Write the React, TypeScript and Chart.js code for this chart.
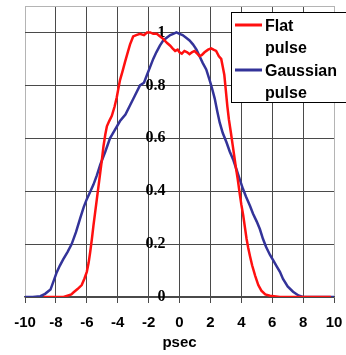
import React, { useEffect, useRef } from "react";
import { Chart, registerables } from "chart.js";

Chart.register(...registerables);

const flatLabel = ["Flat", "pulse"];
const gaussLabel = ["Gaussian", "pulse"];

const flatX = [-8.8, -8, -7.5, -7.0, -6.87, -6.6, -6.33, -6.15, -6.0, -5.88, -5.78, -5.67, -5.57, -5.46, -5.35, -5.24, -5.13, -5.02, -4.92, -4.8, -4.7, -4.55, -4.38, -4.2, -4.06, -3.95, -3.85, -3.68, -3.52, -3.35, -3.2, -3.0, -2.8, -2.56, -2.3, -2.1, -1.9, -1.7, -1.47, -1.25, -1.04, -0.8, -0.6, -0.45, -0.28, -0.12, 0, 0.15, 0.32, 0.5, 0.65, 0.8, 0.97, 1.15, 1.3, 1.45, 1.62, 1.85, 2.05, 2.2, 2.37, 2.55, 2.7, 2.8, 2.9, 3.0, 3.1, 3.2, 3.33, 3.44, 3.55, 3.66, 3.77, 3.9, 4.0, 4.12, 4.23, 4.34, 4.45, 4.56, 4.7, 4.9, 5.1, 5.3, 5.55, 5.85, 6.5, 7.5, 8.5, 9.8];
const flatY = [0, 0, 0, 0.01, 0.017, 0.03, 0.045, 0.07, 0.095, 0.13, 0.17, 0.22, 0.27, 0.32, 0.37, 0.42, 0.47, 0.52, 0.57, 0.615, 0.645, 0.665, 0.685, 0.72, 0.755, 0.79, 0.82, 0.855, 0.89, 0.925, 0.955, 0.985, 0.99, 0.995, 0.99, 1.0, 1.0, 0.995, 0.995, 0.985, 0.975, 0.96, 0.95, 0.94, 0.93, 0.935, 0.925, 0.92, 0.93, 0.925, 0.918, 0.925, 0.93, 0.92, 0.91, 0.915, 0.925, 0.935, 0.94, 0.935, 0.93, 0.91, 0.9, 0.87, 0.84, 0.78, 0.72, 0.67, 0.62, 0.575, 0.53, 0.485, 0.445, 0.39, 0.35, 0.31, 0.265, 0.22, 0.185, 0.155, 0.12, 0.08, 0.045, 0.024, 0.01, 0.005, 0, 0, 0, 0];

const gaussX = [-10, -9.5, -9.0, -8.7, -8.35, -8.15, -7.95, -7.75, -7.52, -7.25, -6.98, -6.7, -6.44, -6.2, -6.0, -5.8, -5.57, -5.35, -5.13, -4.8, -4.5, -4.2, -3.85, -3.5, -3.2, -2.9, -2.56, -2.3, -2.1, -1.9, -1.7, -1.5, -1.27, -1.05, -0.83, -0.6, -0.4, -0.2, 0, 0.2, 0.43, 0.65, 0.87, 1.1, 1.3, 1.5, 1.73, 1.95, 2.1, 2.28, 2.45, 2.6, 2.8, 3.04, 3.25, 3.47, 3.7, 3.9, 4.1, 4.3, 4.56, 4.76, 5.0, 5.2, 5.4, 5.6, 5.85, 6.05, 6.3, 6.5, 6.7, 7.0, 7.35, 7.7, 8.0, 9.0, 10];
const gaussY = [0, 0, 0.003, 0.012, 0.028, 0.06, 0.093, 0.118, 0.143, 0.17, 0.2, 0.245, 0.295, 0.34, 0.37, 0.395, 0.425, 0.46, 0.5, 0.55, 0.6, 0.63, 0.665, 0.69, 0.725, 0.76, 0.8, 0.81, 0.84, 0.87, 0.9, 0.925, 0.95, 0.97, 0.98, 0.99, 0.995, 1.0, 0.995, 0.99, 0.98, 0.97, 0.955, 0.935, 0.91, 0.885, 0.86, 0.82, 0.79, 0.75, 0.7, 0.66, 0.62, 0.585, 0.55, 0.52, 0.48, 0.445, 0.41, 0.38, 0.345, 0.315, 0.285, 0.257, 0.22, 0.19, 0.16, 0.14, 0.115, 0.095, 0.068, 0.04, 0.02, 0.006, 0, 0, 0];

const yTicks = [0, 0.2, 0.4, 0.6, 0.8, 1.0, 1.1];
const xTitle = "psec";

const SANS = "'Liberation Sans', Arial, sans-serif";
const SERIF = "'Liberation Serif', 'Times New Roman', serif";
const DARK = "#4a4a4a";
const LIGHT = "#b4b4b4";

const legendPlugin = {
  id: "boxLegend",
  afterDraw(chart: any) {
    const ctx = chart.ctx;
    const left = 231, top = 12, width = 125, height = 90;
    ctx.save();
    ctx.fillStyle = "#ffffff";
    ctx.fillRect(left, top, width, height);
    ctx.strokeStyle = "#000000";
    ctx.lineWidth = 1;
    ctx.strokeRect(left + 0.5, top + 0.5, width, height);
    ctx.font = `bold 16px ${SANS}`;
    ctx.textBaseline = "middle";
    ctx.textAlign = "left";
    chart.data.datasets.forEach((ds: any, i: number) => {
      const cy = top + 13 + i * 45;
      ctx.strokeStyle = ds.borderColor;
      ctx.lineWidth = 3;
      ctx.beginPath();
      ctx.moveTo(left + 4, cy);
      ctx.lineTo(left + 31, cy);
      ctx.stroke();
      ctx.fillStyle = "#000000";
      const lines: string[] = ds.label;
      lines.forEach((t, j) => ctx.fillText(t, left + 34, cy + 2 + j * 22));
    });
    ctx.restore();
  },
};

export default function App() {
  const ref = useRef<HTMLCanvasElement | null>(null);
  useEffect(() => {
    document.body.style.margin = "0";
    const canvas = ref.current;
    if (!canvas) return;
    const chart = new Chart(canvas, {
      type: "line",
      data: {
        datasets: [
          {
            label: flatLabel as any,
            data: flatX.map((x, i) => ({ x, y: flatY[i] })),
            borderColor: "#ff1010",
            borderWidth: 2.5,
            pointRadius: 0,
            tension: 0,
            fill: false,
          },
          {
            label: gaussLabel as any,
            data: gaussX.map((x, i) => ({ x, y: gaussY[i] })),
            borderColor: "#333399",
            borderWidth: 2.5,
            pointRadius: 0,
            tension: 0,
            fill: false,
          },
        ],
      },
      options: {
        responsive: false,
        animation: false,
        layout: { padding: { left: 25, right: 12, top: 6, bottom: 3 } },
        plugins: { legend: { display: false }, tooltip: { enabled: false } },
        scales: {
          x: {
            type: "linear",
            min: -10,
            max: 10,
            afterFit: (s: any) => {
              s.paddingLeft = 0;
              s.paddingRight = 0;
            },
            ticks: {
              stepSize: 2,
              color: "#000",
              padding: 11,
              maxRotation: 0,
              font: { family: SANS, size: 15, weight: "bold" },
            },
            grid: {
              color: (c: any) => (c.tick && (c.tick.value === -10 || c.tick.value === 10) ? LIGHT : DARK),
              tickColor: DARK,
              tickLength: 6,
              lineWidth: 1,
            },
            border: { display: true, color: DARK, width: 1.5 },
            title: {
              display: true,
              text: xTitle,
              color: "#000",
              padding: { top: -9, bottom: 0 },
              font: { family: SANS, size: 15, weight: "bold" },
            },
          },
          y: {
            type: "linear",
            min: 0,
            max: 1.1,
            position: { x: -0.9 } as any,
            afterBuildTicks: (scale: any) => {
              scale.ticks = yTicks.map((v) => ({ value: v }));
            },
            afterFit: (s: any) => {
              s.paddingTop = 0;
              s.paddingBottom = 0;
            },
            ticks: {
              color: "#000",
              padding: 0,
              font: { family: SERIF, size: 16, weight: "bold" },
              callback: (v: any) => (v > 1.05 ? "" : String(Math.round(v * 10) / 10)),
            },
            grid: {
              color: (c: any) => (c.tick && c.tick.value > 1.05 ? LIGHT : DARK),
              drawTicks: false,
              lineWidth: 1,
            },
            border: { display: false },
          },
        },
      },
      plugins: [legendPlugin],
    });
    return () => chart.destroy();
  }, []);
  return <canvas ref={ref} width={346} height={355} style={{ display: "block" }} />;
}
